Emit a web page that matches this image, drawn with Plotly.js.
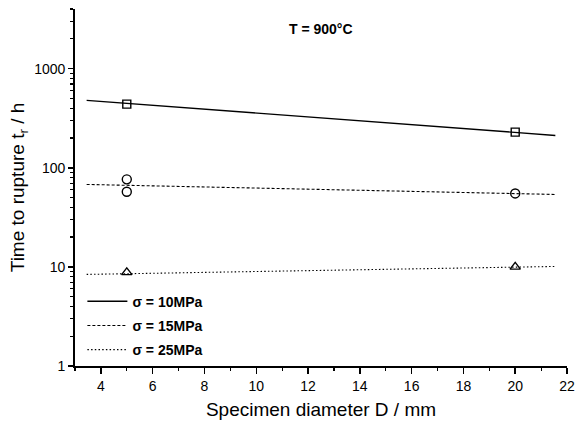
<!DOCTYPE html>
<html>
<head>
<meta charset="utf-8">
<script src="https://cdn.plot.ly/plotly-3.0.1.min.js"></script>
<style>
  html, body { margin: 0; padding: 0; background: #fff; }
  #chart { width: 576px; height: 423px; }
</style>
</head>
<body>
<div id="chart"></div>
<script>
// Measured rupture times (h) at 900 °C for two specimen diameters (mm)
const diam10 = [5, 20];
const time10 = [439, 229];
const diam15 = [5, 5, 20];
const time15 = [76.4, 57.3, 55.1];
const diam25 = [5, 20];
const time25 = [8.8, 10.0];

// Fitted trend lines (end points of each fit)
const fitD = [3.45, 21.55];
const fit10 = [479, 212];
const fit15 = [67.9, 53.8];
const fit25 = [8.4, 10.1];

const seriesNames = ['σ = 10MPa', 'σ = 15MPa', 'σ = 25MPa'];
const xMajorTicks = [4, 6, 8, 10, 12, 14, 16, 18, 20, 22];
const xMinorTicks = [3, 5, 7, 9, 11, 13, 15, 17, 19, 21];
const yMajorTicks = [1, 10, 100, 1000];

const yMinorTicks = [];
[1, 10, 100, 1000].forEach(dec => {
  for (let k = 2; k <= 9; k++) {
    const v = dec * k;
    if (v <= 4000) yMinorTicks.push(v);
  }
});

const fontFam = '"Liberation Sans", Arial, sans-serif';
const black = '#000';

const lineStyles = [
  { width: 1.4, dash: 'solid' },
  { width: 1.1, dash: '3px,2px' },
  { width: 1.1, dash: '1.5px,2.2px' }
];

const traces = [
  { x: fitD, y: fit10, mode: 'lines', name: seriesNames[0], legendgroup: 'a', line: Object.assign({ color: black }, lineStyles[0]) },
  { x: fitD, y: fit15, mode: 'lines', name: seriesNames[1], legendgroup: 'b', line: Object.assign({ color: black }, lineStyles[1]) },
  { x: fitD, y: fit25, mode: 'lines', name: seriesNames[2], legendgroup: 'c', line: Object.assign({ color: black }, lineStyles[2]) },
  { x: diam10, y: time10, mode: 'markers', showlegend: false,
    marker: { symbol: 'square-open', size: 8, color: black, line: { width: 1.4, color: black } } },
  { x: diam15, y: time15, mode: 'markers', showlegend: false,
    marker: { symbol: 'circle-open', size: 9, color: black, line: { width: 1.4, color: black } } },
  { x: diam25, y: time25, mode: 'markers', showlegend: false,
    marker: { symbol: 'triangle-up-open', size: 9, color: black, line: { width: 1.4, color: black } } }
];

const layout = {
  width: 576,
  height: 423,
  margin: { l: 75, r: 9, t: 9, b: 57 },
  paper_bgcolor: '#fff',
  plot_bgcolor: '#fff',
  font: { family: fontFam, color: black, size: 13 },
  showlegend: true,
  legend: {
    x: 0.015, y: 0.225, xanchor: 'left', yanchor: 'top',
    bgcolor: 'rgba(0,0,0,0)',
    font: { family: fontFam, size: 14, color: black, weight: 'bold' },
    tracegroupgap: 3,
    itemwidth: 40
  },
  xaxis: {
    range: [3, 22],
    tickmode: 'array',
    tickvals: xMajorTicks,
    ticks: 'outside', ticklen: 6, tickwidth: 1.5, tickcolor: black,
    minor: { tickmode: 'array', tickvals: xMinorTicks, ticks: 'outside', ticklen: 3, tickwidth: 1.2, tickcolor: black },
    showline: true, linewidth: 1.8, linecolor: black,
    showgrid: false, zeroline: false,
    tickfont: { size: 14 },
    title: { text: 'Specimen diameter D / mm', font: { size: 19 }, standoff: 10 }
  },
  yaxis: {
    type: 'log',
    range: [0, Math.log10(4000)],
    tickmode: 'array',
    tickvals: yMajorTicks,
    ticktext: yMajorTicks.map(String),
    ticks: 'outside', ticklen: 5, tickwidth: 1.5, tickcolor: black,
    minor: { tickmode: 'array', tickvals: yMinorTicks, ticks: 'outside', ticklen: 3, tickwidth: 1.2, tickcolor: black },
    showline: true, linewidth: 1.8, linecolor: black,
    showgrid: false, zeroline: false,
    tickfont: { size: 14 },
    title: { text: 'Time to rupture t<sub>r</sub> / h', font: { size: 19 }, standoff: 4 }
  },
  annotations: [
    { text: 'T = 900°C', xref: 'paper', yref: 'paper', x: 0.5, y: 0.945,
      xanchor: 'center', yanchor: 'middle', showarrow: false,
      font: { family: fontFam, size: 14, color: black, weight: 'bold' } }
  ]
};

Plotly.newPlot('chart', traces, layout, { displayModeBar: false, staticPlot: true });
</script>
</body>
</html>
